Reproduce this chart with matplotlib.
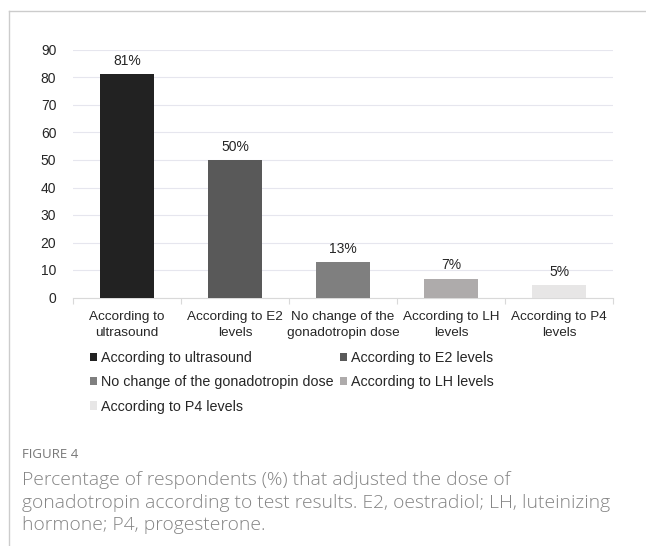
import matplotlib.pyplot as plt
from matplotlib.patches import Patch
from matplotlib.lines import Line2D

# data
categories = ['According to\nultrasound', 'According to E2\nlevels',
              'No change of the\ngonadotropin dose', 'According to LH\nlevels',
              'According to P4\nlevels']
legend_names = ['According to ultrasound', 'According to E2 levels',
                'No change of the gonadotropin dose', 'According to LH levels',
                'According to P4 levels']
values = [81.2, 50.1, 12.9, 6.9, 4.5]
value_labels = ['81%', '50%', '13%', '7%', '5%']
colors = ['#222222', '#595959', '#7f7f7f', '#aeabab', '#e7e6e6']

plt.rcParams['font.family'] = ['Liberation Sans', 'DejaVu Sans']

fig = plt.figure(figsize=(6.46, 5.46), dpi=100)
ax = fig.add_axes([73/646, 1-297.5/546, 540/646, 247.5/546])

x = range(len(values))
bars = ax.bar(x, values, width=0.5, color=colors, zorder=3)
for i, v in enumerate(values):
    ax.text(i, v + 2.2, value_labels[i], ha='center', va='bottom', fontsize=10, color='#262626')

ax.set_ylim(0, 90)
ax.set_xlim(-0.5, len(values) - 0.5)
ax.set_yticks(range(0, 91, 10))
ax.grid(axis='y', color='#e6e6ee', linewidth=0.8, zorder=0)
for s in ['top', 'right', 'left']:
    ax.spines[s].set_visible(False)
ax.spines['bottom'].set_color('#d9d9d9')
ax.tick_params(axis='y', length=0, labelsize=10, labelcolor='#262626', pad=12)
ax.set_xticks([i + 0.5 for i in range(-1, len(values))])
ax.set_xticklabels([])
ax.tick_params(axis='x', which='major', length=4, color='#d9d9d9')
ax.set_xticks(list(x), minor=True)
ax.set_xticklabels(categories, minor=True, fontsize=9.7, color='#262626', linespacing=1.4)
ax.tick_params(axis='x', which='minor', length=0, pad=10)

# legend filled row by row like the original
order = [0, 2, 4, 1, 3]
handles = [Patch(facecolor=colors[k], edgecolor='none') for k in order]
fig.legend(handles, [legend_names[k] for k in order], ncol=2, loc='upper left',
           bbox_to_anchor=(90/646, 1-351/546), frameon=False, fontsize=10.3,
           handlelength=0.5, handleheight=0.5, handletextpad=0.28,
           columnspacing=0.4, labelspacing=0.72, labelcolor='#262626',
           borderaxespad=0, borderpad=0)

# frame
fig.add_artist(Line2D([9/646, 1], [1-11/546, 1-11/546], color='#cccccc', lw=1))
fig.add_artist(Line2D([9/646, 9/646], [0, 1-11/546], color='#cccccc', lw=1))

fig.text(22/646, 1-455/546, 'FIGURE 4', fontsize=9.5, color='#777777',
         family=['Open Sans', 'DejaVu Sans'], va='center')
fig.text(22/646, 1-471/546,
         'Percentage of respondents (%) that adjusted the dose of\n'
         'gonadotropin according to test results. E2, oestradiol; LH, luteinizing\n'
         'hormone; P4, progesterone.',
         fontsize=13.85, color='#858585', family=['Open Sans', 'DejaVu Sans'],
         va='top', linespacing=1.33, fontweight='light')

fig.savefig('out.png', dpi=100)
